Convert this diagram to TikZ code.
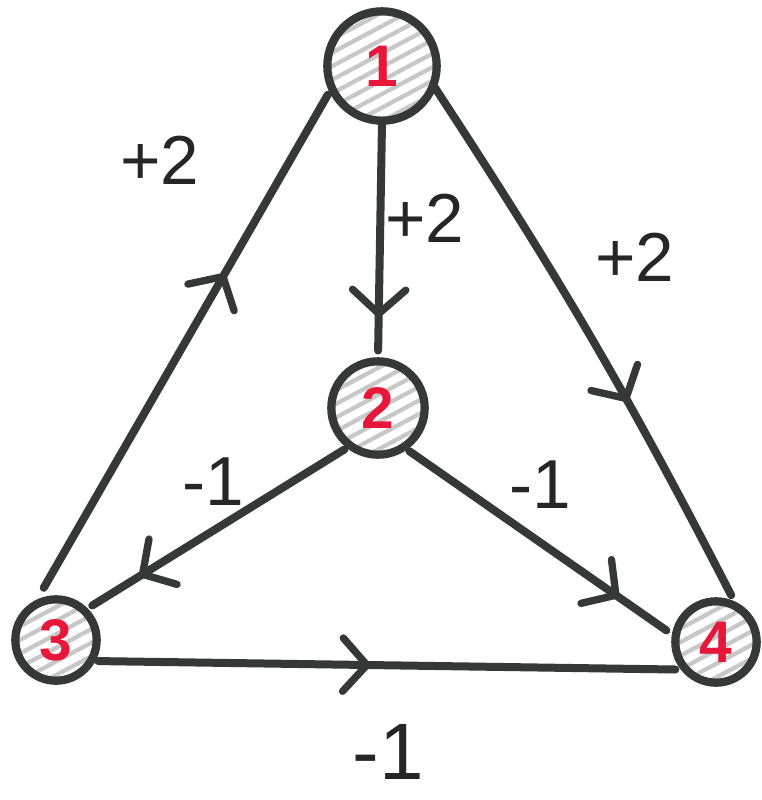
\documentclass[tikz,border=0pt]{standalone}
\usepackage{fontspec}
\setmainfont{Liberation Sans}
\usetikzlibrary{arrows.meta,decorations.markings,patterns.meta}
\definecolor{ink}{HTML}{353836}
\definecolor{numred}{HTML}{E8173A}
\tikzset{
  vert/.style={circle, draw=ink, line width=6.2pt, inner sep=0pt,
    pattern={Lines[angle=28, distance=9pt, line width=3.2pt]}, pattern color=black!22,
    font=\fontsize{44}{44}\selectfont\bfseries, text=numred},
  edge/.style={draw=ink, line width=6pt, line cap=round},
  chev/.style={postaction={decorate, decoration={markings,
    mark=at position #1 with {\arrow[ink, line width=5.5pt]{Straight Barb[length=18pt, width=40pt, line cap=round, line join=round]}}}}},
  wlab/.style={font=\fontsize{52}{52}\selectfont, text=black!85, inner sep=0pt}
}
\begin{document}
\begin{tikzpicture}[x=0.75pt,y=-0.75pt]
\useasboundingbox (0,0) rectangle (762,800);
\fill[white] (0,0) rectangle (762,800);
\node[vert, minimum size=82pt] (n1) at (382,66) {1};
\node[vert, minimum size=70pt] (n2) at (378,408) {2};
\node[vert, minimum size=61pt] (n3) at (56,640) {3};
\node[vert, minimum size=61pt] (n4) at (716,642) {4};
% edges
\draw[edge, chev=0.64, shorten <=10pt, shorten >=4pt] (n3.115) -- (n1.205);
\draw[edge, chev=0.83, shorten >=5pt] (n1.270) -- (n2.90);
\draw[edge, chev=0.62, shorten >=5pt] (n1.-22) to[bend left=3] (n4.66);
\draw[edge, chev=0.8, shorten <=2pt, shorten >=4pt] (n2.232) -- (n3.45);
\draw[edge, chev=0.8, shorten <=2pt, shorten >=5pt] (n2.-55) -- (n4.170);
\draw[edge, chev=0.47, shorten <=2pt, shorten >=4pt] (n3.-28) -- (n4.218);
% labels
\node[wlab] (l31) at (160,160) {+2};
\node[wlab] (l12) at (425,218) {+2};
\node[wlab] (l14) at (635,257) {+2};
\node[wlab] (l23) at (213,482) {-1};
\node[wlab] (l24) at (540,485) {-1};
\node[wlab, font=\fontsize{60}{60}\selectfont] (l34) at (388,752) {-1};
\end{tikzpicture}
\end{document}
